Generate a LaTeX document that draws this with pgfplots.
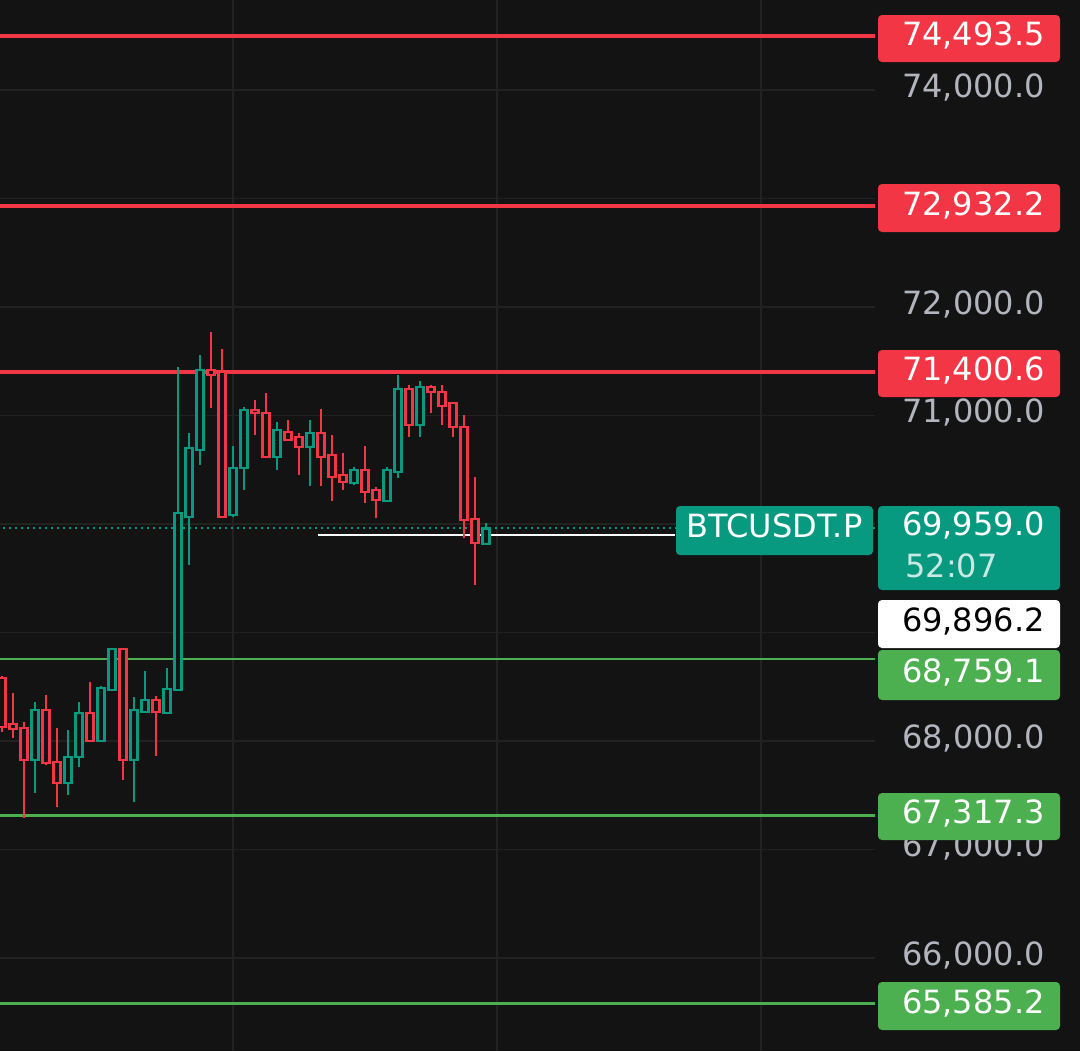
\documentclass[border=0pt]{standalone}
\usepackage{pgfplots}
\usepackage{pgfplotstable}
\pgfplotsset{compat=1.18}
\usepackage{fontspec}
\setmainfont{DejaVu Sans}
\definecolor{bg}{HTML}{131313}
\definecolor{gridc}{HTML}{222222}
\definecolor{tvred}{HTML}{F23645}
\definecolor{tvgreen}{HTML}{089981}
\definecolor{lvgreen}{HTML}{4CAF50}
\definecolor{ticktext}{HTML}{B2B5BE}

\pgfplotstableread{
i o h l c u
0 68580.6 68599.1 68082.9 68129.0 0
1 68156.7 68442.4 68027.6 68110.6 0
2 68119.8 68175.1 67290.3 67824.9 0
3 67824.9 68359.4 67520.7 68285.7 1
4 68285.7 68424.0 67778.8 67797.2 0
5 67806.4 68119.8 67391.7 67612.9 0
6 67612.9 68101.4 67502.3 67852.5 1
7 67852.5 68359.4 67760.4 68258.1 1
8 68258.1 68543.8 67995.0 68000.0 0
9 68000.0 68506.9 67995.0 68488.5 1
10 68470.1 68850.0 68465.0 68847.9 1
11 68847.9 68850.0 67640.5 67824.9 0
12 67824.9 68405.6 67437.8 68285.7 1
13 68267.3 68645.2 68265.0 68377.9 1
14 68377.9 68414.7 67861.7 68267.3 0
15 68258.1 68672.9 68250.0 68479.3 1
16 68470.1 71447.0 68465.0 70101.4 1
17 70064.5 70838.7 69622.1 70700.5 1
18 70682.0 71557.6 70543.8 71419.4 1
19 71419.4 71769.6 71069.1 71373.3 0
20 71401.0 71612.9 70055.0 70064.5 0
21 70082.9 70718.9 70064.0 70516.1 1
22 70516.1 71078.3 70313.4 71050.7 1
23 71050.7 71142.7 70820.3 71023.1 0
24 71023.1 71207.2 70608.0 70617.5 0
25 70617.5 70940.2 70497.7 70866.4 1
26 70848.0 70958.5 70770.0 70774.3 0
27 70802.0 70838.7 70451.6 70709.9 0
28 70709.9 70958.5 70350.2 70838.7 1
29 70838.7 71059.9 70350.2 70617.5 0
30 70635.9 70820.3 70211.9 70433.1 0
31 70451.6 70654.3 70313.4 70387.1 0
32 70377.9 70525.3 70359.4 70497.7 1
33 70497.7 70718.9 70193.5 70294.9 0
34 70313.4 70341.0 70055.0 70221.2 0
35 70212.0 70525.3 70210.0 70497.7 1
36 70479.3 71373.3 70424.0 71244.2 1
37 71244.2 71281.1 70802.0 70912.4 0
38 70912.4 71317.9 70802.0 71262.6 1
39 71262.6 71281.1 71023.1 71216.5 0
40 71216.5 71281.1 70912.4 71087.5 0
41 71115.2 71120.0 70802.0 70894.0 0
42 70894.0 71004.6 69871.0 70037.0 0
43 70046.0 70433.1 69437.8 69825.0 0
44 69816.0 70009.1 69814.0 69959.0 1
}\candles

\begin{document}
\begin{tikzpicture}
\begin{scope}[x=0.5pt,y=-0.5pt]
\fill[bg] (0,0) rectangle (1080,1051);
\end{scope}
\begin{axis}[
  at={(0pt,0pt)}, anchor=north west,
  scale only axis, width=437.5pt, height=525.5pt,
  xmin=-0.182, xmax=79.364,
  ymin=65142.9, ymax=74829.5,
  axis line style={draw=none},
  major tick length=0pt,
  xtick={21,45,69}, xticklabels={},
  ytick={66000,67000,68000,69000,70000,71000,72000,73000,74000},
  yticklabels={{66,000.0},{67,000.0},{68,000.0},{},{},{71,000.0},{72,000.0},{},{74,000.0}},
  yticklabel pos=right,
  yticklabel style={anchor=east, xshift=85pt, inner sep=0pt, text height=0.729em, text depth=0pt,
    font=\fontsize{16}{19}\selectfont, text=ticktext},
  grid=major, major grid style={gridc, line width=0.6pt},
  clip=true,
]
% level lines
\addplot[tvred, line width=2pt] coordinates {(-1,74493.5) (80,74493.5)};
\addplot[tvred, line width=2pt] coordinates {(-1,72932.2) (80,72932.2)};
\addplot[tvred, line width=2pt] coordinates {(-1,71400.6) (80,71400.6)};
\addplot[lvgreen, line width=1pt] coordinates {(-1,68759.1) (80,68759.1)};
\addplot[lvgreen, line width=1.5pt] coordinates {(-1,67317.3) (80,67317.3)};
\addplot[lvgreen, line width=1.5pt] coordinates {(-1,65585.2) (80,65585.2)};
% current price dotted line
\addplot[tvgreen, line width=1pt, dash pattern=on 1pt off 2pt] coordinates {(-1,69959.0) (80,69959.0)};
% white line
\addplot[white, line width=1pt] coordinates {(28.7,69896.2) (61.2,69896.2)};
% candles
\pgfplotsforeachungrouped \k in {0,...,44} {
  \pgfplotstablegetelem{\k}{i}\of\candles \let\ci\pgfplotsretval
  \pgfplotstablegetelem{\k}{o}\of\candles \let\co\pgfplotsretval
  \pgfplotstablegetelem{\k}{h}\of\candles \let\ch\pgfplotsretval
  \pgfplotstablegetelem{\k}{l}\of\candles \let\cl\pgfplotsretval
  \pgfplotstablegetelem{\k}{c}\of\candles \let\cclose\pgfplotsretval
  \pgfplotstablegetelem{\k}{u}\of\candles \let\cu\pgfplotsretval
  \pgfmathsetmacro\xl{\ci-0.32}
  \pgfmathsetmacro\xr{\ci+0.32}
  \ifnum\cu=1 \def\ccol{tvgreen}\else\def\ccol{tvred}\fi
  \edef\tmp{%
    \noexpand\addplot[draw=\ccol, line width=1.2pt] coordinates {(\ci,\cl) (\ci,\ch)};
    \noexpand\addplot[draw=\ccol, fill=bg, line width=1.2pt] coordinates {(\xl,\co) (\xr,\co) (\xr,\cclose) (\xl,\cclose)} -- cycle;
  }
  \tmp
}
\end{axis}
\begin{scope}[x=0.5pt,y=-0.5pt]
\tikzset{lab/.style={anchor=east, inner sep=0pt, text height=0.729em, text depth=0pt, font=\fontsize{16}{19}\selectfont}}
% red labels
\fill[tvred, rounded corners=2pt] (878,15) rectangle (1060,62);
\node[lab, text=white] at (1045,38.5) {74,493.5};
\fill[tvred, rounded corners=2pt] (878,184) rectangle (1060,232);
\node[lab, text=white] at (1045,208) {72,932.2};
\fill[tvred, rounded corners=2pt] (878,350) rectangle (1060,397);
\node[lab, text=white] at (1045,373.5) {71,400.6};
% current price label
\fill[tvgreen, rounded corners=2pt] (676,506) rectangle (873,555);
\node[anchor=center, inner sep=0pt, text height=0.729em, text depth=0pt, font=\fontsize{16}{19}\selectfont, text=white] at (774.5,530.5) {BTCUSDT.P};
\fill[tvgreen, rounded corners=2pt] (878,506) rectangle (1060,590);
\node[lab, text=white] at (1045,528) {69,959.0};
\node[lab, anchor=west, text=white!78!tvgreen] at (905,570) {52:07};
% white label
\fill[white, rounded corners=2pt] (878,600) rectangle (1060,648);
\node[lab, text=black] at (1045,624) {69,896.2};
% green labels
\fill[lvgreen, rounded corners=2pt] (878,650) rectangle (1060,700);
\node[lab, text=white] at (1045,675) {68,759.1};
\fill[lvgreen, rounded corners=2pt] (878,793) rectangle (1060,840);
\node[lab, text=white] at (1045,816.5) {67,317.3};
\fill[lvgreen, rounded corners=2pt] (878,982) rectangle (1060,1030);
\node[lab, text=white] at (1045,1006) {65,585.2};
\pgfresetboundingbox
\useasboundingbox (0,0) rectangle (1080,1051);
\end{scope}
\end{tikzpicture}
\end{document}
